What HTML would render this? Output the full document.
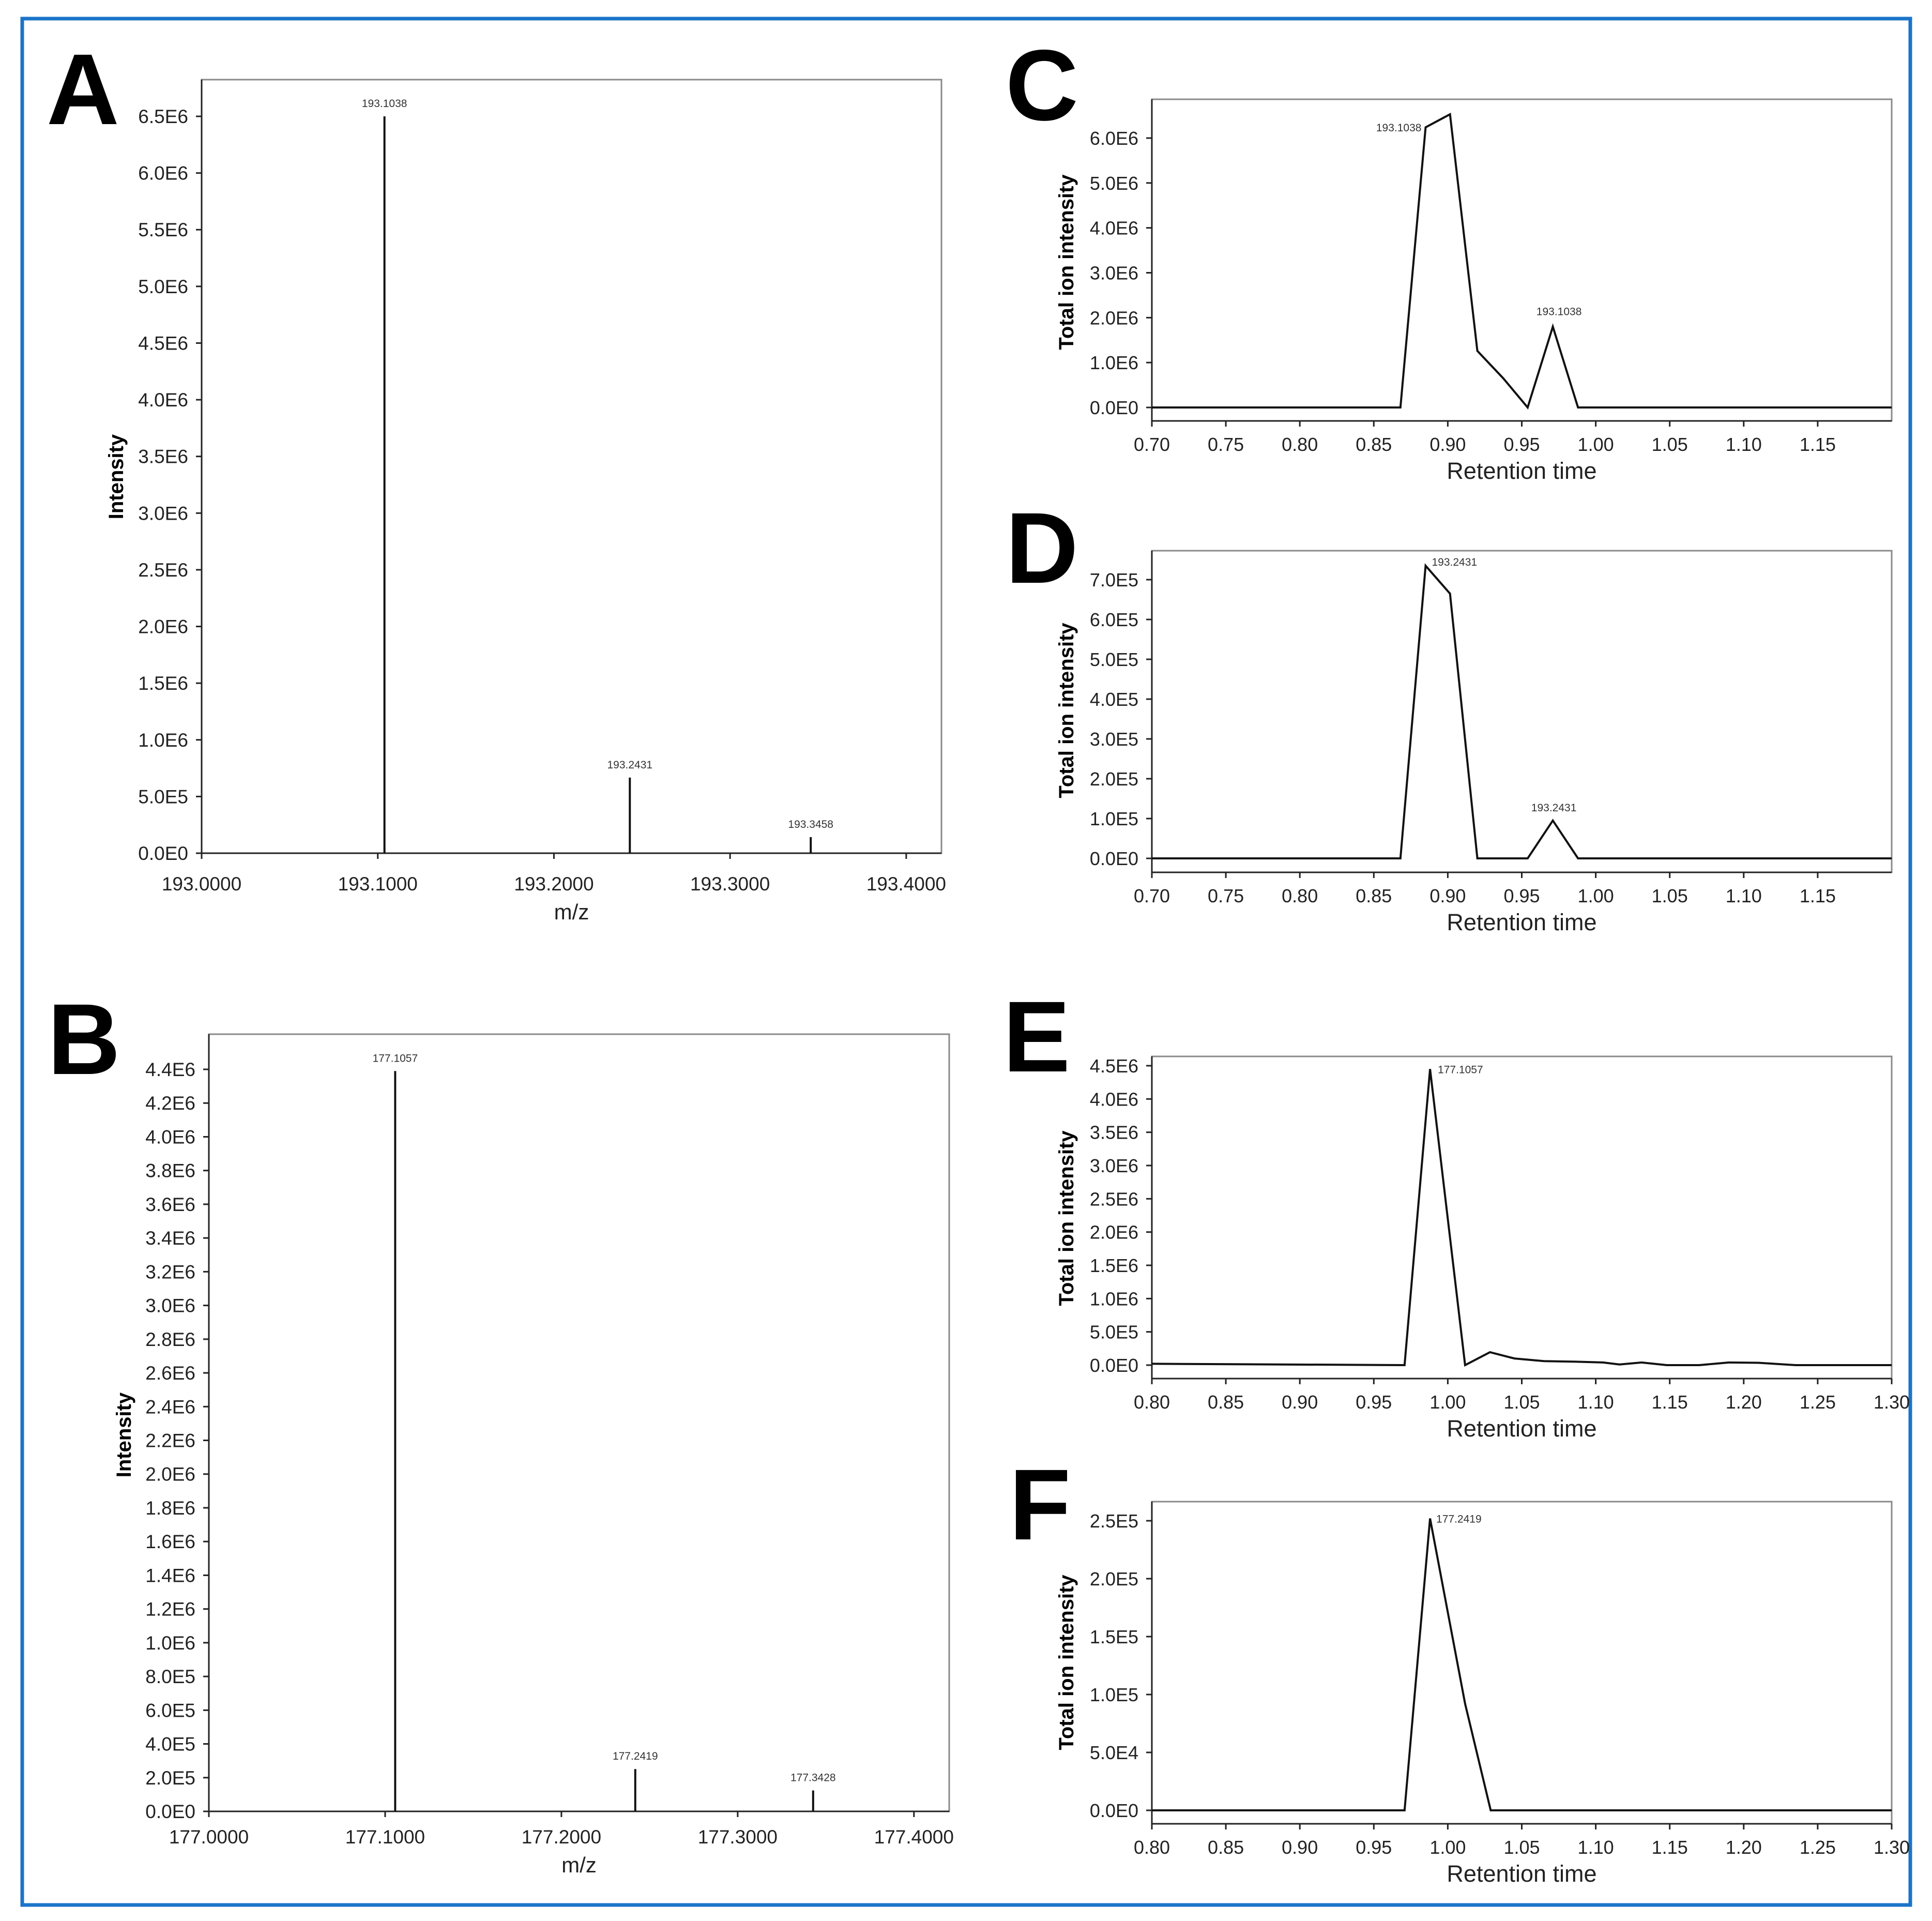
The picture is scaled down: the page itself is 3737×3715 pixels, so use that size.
<!DOCTYPE html>
<html><head><meta charset="utf-8">
<style>
html,body{margin:0;padding:0;background:#fff;}
svg{display:block;font-family:"Liberation Sans",Arial,sans-serif;}
</style></head>
<body>
<svg id="fig" width="3737" height="3715" viewBox="0 0 3737 3715" xmlns="http://www.w3.org/2000/svg">
<rect x="43" y="36" width="3652" height="3648" fill="none" stroke="#1b74c9" stroke-width="7"/>
</svg>
<script>
// ---- Panel A data (mass spectrum) ----
const aMz = [193.1038, 193.2431, 193.3458];
const aIntensity = [6.5e6, 0.667e6, 0.142e6];
const aPeakLabels = ["193.1038", "193.2431", "193.3458"];
const aYTicks = [0,0.5e6,1.0e6,1.5e6,2.0e6,2.5e6,3.0e6,3.5e6,4.0e6,4.5e6,5.0e6,5.5e6,6.0e6,6.5e6];
const aYTickLabels = ["0.0E0","5.0E5","1.0E6","1.5E6","2.0E6","2.5E6","3.0E6","3.5E6","4.0E6","4.5E6","5.0E6","5.5E6","6.0E6","6.5E6"];
const aXTicks = [193.0,193.1,193.2,193.3,193.4];
const aXTickLabels = ["193.0000","193.1000","193.2000","193.3000","193.4000"];

// ---- Panel B data ----
const bMz = [177.1057, 177.2419, 177.3428];
const bIntensity = [4.39e6, 0.251e6, 0.124e6];
const bPeakLabels = ["177.1057", "177.2419", "177.3428"];
const bYTicks = [0,0.2e6,0.4e6,0.6e6,0.8e6,1.0e6,1.2e6,1.4e6,1.6e6,1.8e6,2.0e6,2.2e6,2.4e6,2.6e6,2.8e6,3.0e6,3.2e6,3.4e6,3.6e6,3.8e6,4.0e6,4.2e6,4.4e6];
const bYTickLabels = ["0.0E0","2.0E5","4.0E5","6.0E5","8.0E5","1.0E6","1.2E6","1.4E6","1.6E6","1.8E6","2.0E6","2.2E6","2.4E6","2.6E6","2.8E6","3.0E6","3.2E6","3.4E6","3.6E6","3.8E6","4.0E6","4.2E6","4.4E6"];
const bXTicks = [177.0,177.1,177.2,177.3,177.4];
const bXTickLabels = ["177.0000","177.1000","177.2000","177.3000","177.4000"];

// ---- Panel C data (chromatogram) ----
const cTime = [0.70,0.868,0.885,0.9015,0.920,0.9375,0.954,0.971,0.988,1.20];
const cTic  = [0,0,6.24e6,6.53e6,1.26e6,0.65e6,0,1.8e6,0,0];
const cYTicks = [0,1e6,2e6,3e6,4e6,5e6,6e6];
const cYTickLabels = ["0.0E0","1.0E6","2.0E6","3.0E6","4.0E6","5.0E6","6.0E6"];
// ---- Panel D data ----
const dTime = [0.70,0.868,0.885,0.9015,0.920,0.954,0.971,0.988,1.20];
const dTic  = [0,0,7.35e5,6.65e5,0,0,0.95e5,0,0];
const dYTicks = [0,1e5,2e5,3e5,4e5,5e5,6e5,7e5];
const dYTickLabels = ["0.0E0","1.0E5","2.0E5","3.0E5","4.0E5","5.0E5","6.0E5","7.0E5"];
const cdXTicks = [0.70,0.75,0.80,0.85,0.90,0.95,1.00,1.05,1.10,1.15];
const cdXTickLabels = ["0.70","0.75","0.80","0.85","0.90","0.95","1.00","1.05","1.10","1.15"];
// ---- Panel E data ----
const eTime = [0.80,0.9708,0.988,1.0117,1.0285,1.045,1.065,1.09,1.105,1.116,1.131,1.148,1.17,1.19,1.21,1.235,1.30];
const eTic  = [0.02e6,0,4.45e6,0,0.194e6,0.1e6,0.06e6,0.05e6,0.04e6,0.01e6,0.04e6,0,0,0.04e6,0.035e6,0,0];
const eYTicks = [0,0.5e6,1.0e6,1.5e6,2.0e6,2.5e6,3.0e6,3.5e6,4.0e6,4.5e6];
const eYTickLabels = ["0.0E0","5.0E5","1.0E6","1.5E6","2.0E6","2.5E6","3.0E6","3.5E6","4.0E6","4.5E6"];
// ---- Panel F data ----
const fTime = [0.80,0.9708,0.988,1.0117,1.029,1.30];
const fTic  = [0,0,2.52e5,0.92e5,0,0];
const fYTicks = [0,0.5e5,1.0e5,1.5e5,2.0e5,2.5e5];
const fYTickLabels = ["0.0E0","5.0E4","1.0E5","1.5E5","2.0E5","2.5E5"];
const efXTicks = [0.80,0.85,0.90,0.95,1.00,1.05,1.10,1.15,1.20,1.25,1.30];
const efXTickLabels = ["0.80","0.85","0.90","0.95","1.00","1.05","1.10","1.15","1.20","1.25","1.30"];

const NS = "http://www.w3.org/2000/svg";
const svg = document.getElementById("fig");
function mk(tag, attrs, parent, text) {
  const el = document.createElementNS(NS, tag);
  for (const k in attrs) el.setAttribute(k, attrs[k]);
  if (text !== undefined) el.textContent = text;
  (parent || svg).appendChild(el);
  return el;
}

function spectrum(p) {
  const g = mk("g", {}, svg);
  
  
  const sx = v => p.L + (v - p.x0) / (p.x1 - p.x0) * (p.R - p.L);
  const sy = v => p.B - v / p.yMax * (p.B - p.yTopPx);
  const letter = mk("text", {x:p.letX, y:p.letY, "font-size":195, "font-weight":"bold"}, g, p.letter);
  
  
  const frame = mk("rect", {x:p.L, y:p.T, width:p.R-p.L, height:p.B-p.T, fill:"none", stroke:"#8a8a8a", "stroke-width":3}, g);
  
  
  const ya = mk("line", {x1:p.L, y1:p.T, x2:p.L, y2:p.B, stroke:"#222", "stroke-width":3}, g);
  
  
  const xa = mk("line", {x1:p.L, y1:p.B, x2:p.R, y2:p.B, stroke:"#222", "stroke-width":3}, g);
  
  
  p.yTicks.forEach((v,i) => {
    const y = sy(v);
    mk("line", {x1:p.L-11, y1:y, x2:p.L, y2:y, stroke:"#222", "stroke-width":3}, g);
    const t = mk("text", {x:p.L-26, y:y+13, "font-size":37, "text-anchor":"end", fill:"#222"}, g, p.yLabels[i]);
    
    
  });
  p.xTicks.forEach((v,i) => {
    const x = sx(v);
    mk("line", {x1:x, y1:p.B, x2:x, y2:p.B+11, stroke:"#222", "stroke-width":3}, g);
    const t = mk("text", {x:x, y:p.B+p.xLabOff, "font-size":37, "text-anchor":"middle", fill:"#222"}, g, p.xLabels[i]);
    
    
  });
  p.mz.forEach((m,i) => {
    const x = sx(m);
    const bar = mk("line", {x1:x, y1:p.B, x2:x, y2:sy(p.inten[i]), stroke:"#111", "stroke-width":4}, g);
    
    
    const t = mk("text", {x:x, y:sy(p.inten[i])-18, "font-size":21, "text-anchor":"middle", fill:"#333"}, g, p.peakLabels[i]);
    
    
  });
  const xt = mk("text", {x:(p.L+p.R)/2, y:p.xTitleY, "font-size":42, "text-anchor":"middle", fill:"#222"}, g, "m/z");
  
  
  const yt = mk("text", {x:0, y:0, "font-size":40, "font-weight":"bold", "text-anchor":"middle", transform:`translate(${p.yTitleX},${p.yTitleY}) rotate(-90)`}, g, "Intensity");
  
  
}

function chrom(p) {
  const g = mk("g", {}, svg);
  
  
  const sx = v => p.L + (v - p.x0) / (p.x1 - p.x0) * (p.R - p.L);
  const sy = v => p.Z - v / p.yMax * (p.Z - p.yTopPx);
  const letter = mk("text", {x:p.letX, y:p.letY, "font-size":195, "font-weight":"bold"}, g, p.letter);
  
  
  const frame = mk("rect", {x:p.L, y:p.T, width:p.R-p.L, height:p.B-p.T, fill:"none", stroke:"#8a8a8a", "stroke-width":3}, g);
  
  
  const ya = mk("line", {x1:p.L, y1:p.T, x2:p.L, y2:p.B, stroke:"#222", "stroke-width":3}, g);
  
  
  const xa = mk("line", {x1:p.L, y1:p.B, x2:p.R, y2:p.B, stroke:"#222", "stroke-width":3}, g);
  
  
  p.yTicks.forEach((v,i) => {
    const y = sy(v);
    mk("line", {x1:p.L-11, y1:y, x2:p.L, y2:y, stroke:"#222", "stroke-width":3}, g);
    const t = mk("text", {x:p.L-26, y:y+13, "font-size":36, "text-anchor":"end", fill:"#222"}, g, p.yLabels[i]);
    
    
  });
  p.xTicks.forEach((v,i) => {
    const x = sx(v);
    mk("line", {x1:x, y1:p.B, x2:x, y2:p.B+11, stroke:"#222", "stroke-width":3}, g);
    const t = mk("text", {x:x, y:p.B+58, "font-size":36, "text-anchor":"middle", fill:"#222"}, g, p.xLabels[i]);
    
    
  });
  const pts = p.t.map((v,i) => sx(v).toFixed(1) + "," + sy(p.v[i]).toFixed(1)).join(" ");
  const line = mk("polyline", {points:pts, fill:"none", stroke:"#111", "stroke-width":4, "stroke-linejoin":"miter"}, g);
  
  
  p.labels.forEach(l => {
    const t = mk("text", {x:sx(p.t[l.i]) + l.dx, y:sy(p.v[l.i]) + l.dy, "font-size":21, "text-anchor":l.anchor, fill:"#333"}, g, l.text);
    
    
  });
  const xt = mk("text", {x:(p.L+p.R)/2, y:p.B+112, "font-size":45, "text-anchor":"middle", fill:"#222"}, g, "Retention time");
  
  
  const yt = mk("text", {x:0, y:0, "font-size":40, "font-weight":"bold", "text-anchor":"middle", transform:`translate(${p.yTitleX},${p.yTitleY}) rotate(-90)`}, g, "Total ion intensity");
  
  
}

spectrum({name:"panel-a", letter:"A", letX:90, letY:240, L:390, R:1821, T:154, B:1650, x0:193.0, x1:193.42,
  yMax:6.5e6, yTopPx:225, yTicks:aYTicks, yLabels:aYTickLabels, xTicks:aXTicks, xLabels:aXTickLabels,
  mz:aMz, inten:aIntensity, peakLabels:aPeakLabels, xLabOff:72, xTitleY:1778, yTitleX:238, yTitleY:922});
spectrum({name:"panel-b", letter:"B", letX:92, letY:2077, L:404, R:1836, T:2000, B:3503, x0:177.0, x1:177.42,
  yMax:4.4e6, yTopPx:2068, yTicks:bYTicks, yLabels:bYTickLabels, xTicks:bXTicks, xLabels:bXTickLabels,
  mz:bMz, inten:bIntensity, peakLabels:bPeakLabels, xLabOff:62, xTitleY:3621, yTitleX:253, yTitleY:2775});

chrom({name:"panel-c", letter:"C", letX:1945, letY:232, L:2228, R:3659, T:192, B:814, Z:788, x0:0.70, x1:1.20,
  yMax:6e6, yTopPx:267, yTicks:cYTicks, yLabels:cYTickLabels, xTicks:cdXTicks, xLabels:cdXTickLabels,
  t:cTime, v:cTic, yTitleX:2076, yTitleY:507,
  labels:[{i:2, text:"193.1038", dx:-8, dy:8, anchor:"end"},{i:7, text:"193.1038", dx:12, dy:-22, anchor:"middle"}]});
chrom({name:"panel-d", letter:"D", letX:1945, letY:1127, L:2228, R:3659, T:1065, B:1687, Z:1660, x0:0.70, x1:1.20,
  yMax:7e5, yTopPx:1121, yTicks:dYTicks, yLabels:dYTickLabels, xTicks:cdXTicks, xLabels:cdXTickLabels,
  t:dTime, v:dTic, yTitleX:2076, yTitleY:1374,
  labels:[{i:2, text:"193.2431", dx:12, dy:0, anchor:"start"},{i:6, text:"193.2431", dx:2, dy:-18, anchor:"middle"}]});
chrom({name:"panel-e", letter:"E", letX:1940, letY:2072, L:2228, R:3659, T:2043, B:2666, Z:2640, x0:0.80, x1:1.30,
  yMax:4.5e6, yTopPx:2061, yTicks:eYTicks, yLabels:eYTickLabels, xTicks:efXTicks, xLabels:efXTickLabels,
  t:eTime, v:eTic, yTitleX:2076, yTitleY:2356,
  labels:[{i:2, text:"177.1057", dx:15, dy:8, anchor:"start"}]});
chrom({name:"panel-f", letter:"F", letX:1952, letY:2977, L:2228, R:3659, T:2904, B:3527, Z:3501, x0:0.80, x1:1.30,
  yMax:2.5e5, yTopPx:2941, yTicks:fYTicks, yLabels:fYTickLabels, xTicks:efXTicks, xLabels:efXTickLabels,
  t:fTime, v:fTic, yTitleX:2076, yTitleY:3215,
  labels:[{i:2, text:"177.2419", dx:12, dy:8, anchor:"start"}]});
</script>
</body></html>
